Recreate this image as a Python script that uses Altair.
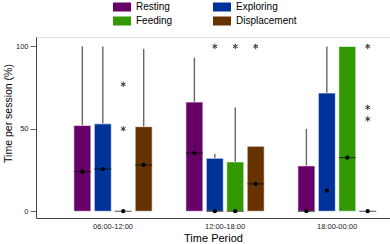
import altair as alt
import pandas as pd

periods = ["06:00-12:00", "12:00-18:00", "18:00-00:00"]
behaviours = ["Resting", "Exploring", "Feeding", "Displacement"]
colors = ["#660066", "#003399", "#339900", "#663300"]

# per period, per behaviour
q1 = [[0, 0, 0, 0], [0, 0, 0, 0], [0, 0, 0, 0]]
q3 = [[52, 53, 0, 51.3], [66.2, 32.1, 29.9, 39.4], [27.5, 71.7, 100, 0]]
whisker_top = [[100, 100, 0, 98.5], [93.2, 34.9, 63, 39.4], [50, 100, 100, 0]]
median = [[24, 25.6, 0, 28.1], [35.3, 0, 0, 16.6], [0, None, 32.5, 0]]
mean = [[24, 25.6, 0, 28.1], [35.3, 0, 0, 16.6], [0, 12.5, 32.5, 0]]

outlier_period = ["06:00-12:00", "06:00-12:00", "12:00-18:00", "12:00-18:00",
                  "12:00-18:00", "18:00-00:00", "18:00-00:00", "18:00-00:00"]
outlier_behaviour = ["Feeding", "Feeding", "Exploring", "Feeding",
                     "Displacement", "Displacement", "Displacement", "Displacement"]
outlier_value = [77, 50, 100, 100, 100, 100, 63, 56]

rows = []
for i, p in enumerate(periods):
    for j, b in enumerate(behaviours):
        rows.append(dict(period=p, behaviour=b, q1=q1[i][j], q3=q3[i][j],
                         top=whisker_top[i][j], median=median[i][j], mean=mean[i][j]))
df = pd.DataFrame(rows)
med_df = df.dropna(subset=["median"])
whisk_df = df[df["top"] > df["q3"]]
out_df = pd.DataFrame(dict(period=outlier_period, behaviour=outlier_behaviour, value=outlier_value))

xenc = alt.X("period:N", sort=periods,
             scale=alt.Scale(domain=periods, paddingInner=0.27, paddingOuter=0.215, align=0.75),
             axis=alt.Axis(title="Time Period", ticks=False, labelAngle=0, labelFontSize=7.5,
                           labelColor="#222", labelPadding=4, titleFontSize=11,
                           titleFontWeight="normal", titleColor="#000", titlePadding=3,
                           domainColor="#444", domainWidth=1))
xoff = alt.XOffset("behaviour:N", sort=behaviours,
                   scale=alt.Scale(domain=behaviours, paddingInner=0.17, paddingOuter=0.085))
yscale = alt.Scale(domain=[-4.1, 105.7], nice=False, zero=False)
yaxis = alt.Axis(title="Time per session (%)", values=[0, 50, 100], grid=False,
                 tickSize=6, tickColor="#666", labelFontSize=7.5, labelColor="#222",
                 labelPadding=2, titleFontSize=10.5, titleFontWeight="normal",
                 titleColor="#000", titleY=76, titlePadding=2,
                 domainColor="#444", domainWidth=1)

whiskers = alt.Chart(whisk_df).mark_rule(color="#666", strokeWidth=1.4).encode(
    x=xenc, xOffset=xoff,
    y=alt.Y("q3:Q", scale=yscale, axis=yaxis), y2="top:Q")

boxes = alt.Chart(df).mark_bar(stroke="#ffffff", strokeOpacity=0.6, strokeWidth=1).encode(
    x=xenc, xOffset=xoff,
    y=alt.Y("q3:Q", scale=yscale, axis=yaxis), y2="q1:Q",
    color=alt.Color("behaviour:N", sort=behaviours,
                    scale=alt.Scale(domain=behaviours, range=colors),
                    legend=alt.Legend(title=None, orient="none", legendX=77, legendY=-39,
                                      direction="horizontal",
                                      columns=2, columnPadding=40, rowPadding=0,
                                      symbolType="M-1,-0.5H1V0.5H-1Z", symbolSize=324,
                                      symbolStrokeWidth=0, labelFontSize=10,
                                      labelColor="#000", labelOffset=5, padding=0)))

med = alt.Chart(med_df).mark_tick(orient="horizontal", size=17, thickness=1, color="#000").encode(
    x=xenc, xOffset=xoff, y=alt.Y("median:Q", scale=yscale, axis=yaxis))

dots = alt.Chart(df).mark_circle(size=18, color="#000", opacity=1).encode(
    x=xenc, xOffset=xoff, y=alt.Y("mean:Q", scale=yscale, axis=yaxis))

stars = alt.Chart(out_df).mark_point(
    shape="M0,-1L0,1M-0.87,-0.5L0.87,0.5M-0.87,0.5L0.87,-0.5",
    filled=False, color="#333", strokeWidth=1, size=30, opacity=1).encode(
    x=xenc, xOffset=xoff, y=alt.Y("value:Q", scale=yscale, axis=yaxis))

chart = alt.layer(whiskers, boxes, med, dots, stars).properties(
    width=354, height=181,
    padding={"left": 36, "top": 37, "right": 0, "bottom": 26},
    autosize="none",
).configure_view(stroke=None).configure(font="Liberation Sans")

chart.save("out.html", embed_options={"renderer": "svg", "actions": False})
